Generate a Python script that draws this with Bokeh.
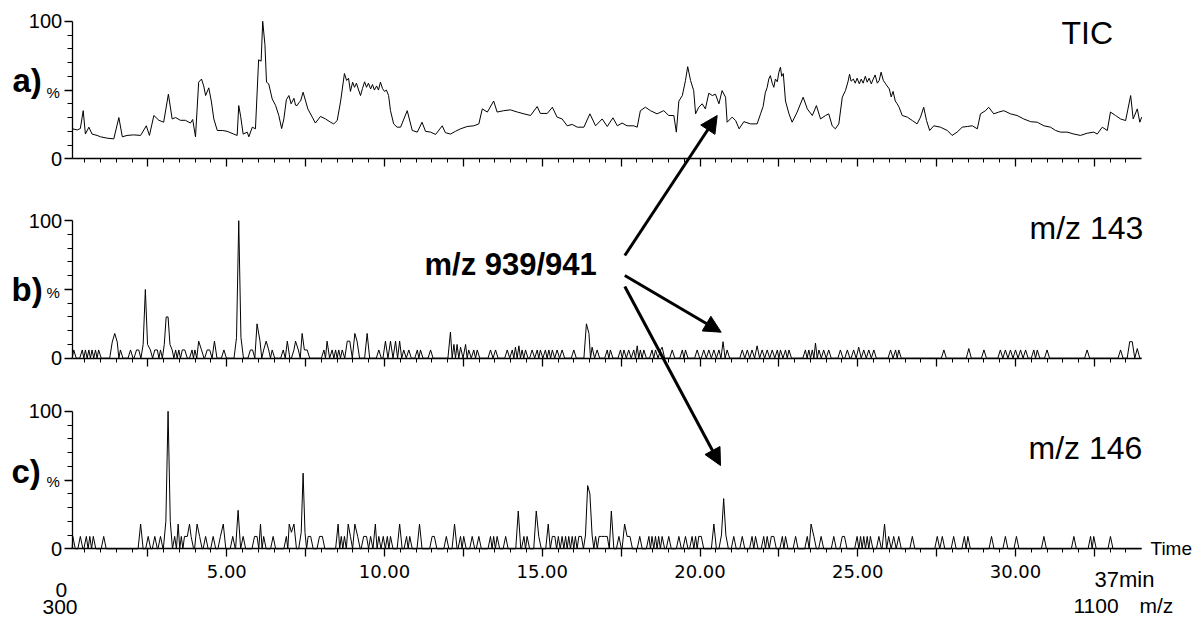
from bokeh.plotting import figure
from bokeh.models import Range1d, LinearAxis, FixedTicker, Arrow, NormalHead, Label
from bokeh.embed import file_html
from bokeh.resources import INLINE

# ---------------- data ----------------
# a) TIC, relative intensity (%) vs retention time (min)
tic_time = [0.11, 0.26, 0.36, 0.45, 0.52, 0.63, 0.73, 0.89, 1.00, 1.21,
            1.42, 1.58, 1.69, 1.84, 2.05, 2.27, 2.45, 2.55, 2.69, 2.85,
            3.00, 3.15, 3.27, 3.38, 3.53, 3.69, 3.85, 3.92, 4.01, 4.11,
            4.20, 4.27, 4.33, 4.43, 4.51, 4.59, 4.70, 4.86, 5.01, 5.22,
            5.33, 5.38, 5.44, 5.52, 5.65, 5.70, 5.81, 5.91, 6.01, 6.09,
            6.14, 6.21, 6.26, 6.33, 6.44, 6.55, 6.65, 6.74, 6.81, 6.89,
            6.97, 7.04, 7.13, 7.18, 7.23, 7.29, 7.34, 7.42, 7.50, 7.57,
            7.71, 7.81, 7.97, 8.13, 8.29, 8.39, 8.50, 8.61, 8.73, 8.80,
            8.86, 8.92, 8.99, 9.05, 9.11, 9.18, 9.24, 9.30, 9.37, 9.43,
            9.49, 9.56, 9.62, 9.68, 9.75, 9.81, 9.87, 9.94, 10.00, 10.06,
            10.13, 10.19, 10.29, 10.40, 10.51, 10.72, 10.88, 11.04, 11.19, 11.30,
            11.46, 11.62, 11.83, 11.93, 12.09, 12.25, 12.41, 12.62, 12.83, 12.99,
            13.10, 13.26, 13.46, 13.57, 13.78, 13.99, 14.21, 14.42, 14.63, 14.84,
            14.94, 15.16, 15.32, 15.47, 15.63, 15.79, 15.95, 16.11, 16.32, 16.51,
            16.69, 16.90, 17.06, 17.24, 17.38, 17.53, 17.69, 17.90, 18.01, 18.11,
            18.27, 18.43, 18.64, 18.85, 19.01, 19.17, 19.25, 19.33, 19.44, 19.54,
            19.61, 19.70, 19.80, 19.86, 19.96, 20.07, 20.17, 20.28, 20.39, 20.49,
            20.60, 20.70, 20.81, 20.86, 21.02, 21.13, 21.24, 21.39, 21.60, 21.81,
            21.92, 22.00, 22.07, 22.13, 22.18, 22.23, 22.29, 22.34, 22.39, 22.45,
            22.50, 22.55, 22.59, 22.64, 22.71, 22.82, 22.92, 23.08, 23.27, 23.40,
            23.56, 23.69, 23.82, 23.98, 24.08, 24.19, 24.29, 24.40, 24.51, 24.61,
            24.69, 24.74, 24.79, 24.86, 24.92, 24.98, 25.05, 25.11, 25.17, 25.24,
            25.30, 25.36, 25.43, 25.49, 25.55, 25.62, 25.68, 25.74, 25.81, 25.87,
            25.93, 26.00, 26.06, 26.12, 26.19, 26.25, 26.31, 26.41, 26.57, 26.73,
            26.88, 26.99, 27.09, 27.18, 27.28, 27.41, 27.62, 27.84, 27.99, 28.15,
            28.31, 28.47, 28.63, 28.79, 28.89, 29.05, 29.15, 29.31, 29.47, 29.63,
            29.84, 30.05, 30.26, 30.48, 30.69, 30.90, 31.11, 31.27, 31.43, 31.64,
            31.85, 32.06, 32.27, 32.48, 32.59, 32.75, 32.91, 33.01, 33.17, 33.33,
            33.49, 33.65, 33.73, 33.86, 33.94, 34.00]
tic_pct = [21.8, 21, 22, 35, 18, 23, 18, 17, 16, 15,
           14.5, 30, 16, 17, 17.4, 17, 24, 17, 31.5, 28,
           26.6, 47, 29, 30, 28, 28, 26, 28.6, 16, 55.7,
           58, 53, 46, 51.6, 42, 29, 20.6, 20.6, 20, 18,
           17, 38.7, 31, 18, 19.4, 16, 23, 21.8, 72, 71,
           100, 83, 55.7, 54.5, 43.6, 38.7, 31.5, 22, 29, 43,
           46, 40, 44, 39, 38.7, 41, 42, 48.4, 42, 36.3,
           30.3, 26, 30.8, 29, 26.6, 25.4, 27.8, 42, 62, 57,
           58.6, 49, 55.7, 52, 55, 50, 46, 51, 56, 52,
           55, 50.8, 54, 50, 53, 50, 55.7, 51, 49, 50,
           46, 35, 25.4, 23, 23, 35, 20.6, 19.4, 26.6, 20,
           19.4, 17.7, 24, 19, 18, 20, 21.8, 23.5, 24, 25.4,
           36.3, 34, 42, 34, 35, 35.6, 34, 32.7, 31.5, 38,
           33, 33, 37.5, 30.3, 29, 24, 25, 23, 23, 32.7,
           24, 29, 23.5, 29.8, 24, 26, 24, 24, 23, 35,
           37.5, 35, 32.7, 35, 31.5, 31.5, 19.4, 42, 46, 57,
           67, 57, 49.6, 32.7, 37.5, 40, 36.3, 47.7, 46, 47,
           40, 49.6, 44.8, 26.6, 30.3, 27.8, 21.8, 27, 25.4, 25.4,
           32.7, 38, 48, 52, 58, 60.5, 55, 52, 58, 56,
           63, 66.6, 60, 62, 42, 32.7, 26.6, 34, 44.8, 36.3,
           31.5, 38.7, 29, 31.5, 32.7, 24, 21.8, 25.4, 44.8, 49.6,
           56, 61.5, 56.4, 58, 55, 58.6, 54.5, 58, 55, 60,
           55.7, 58.6, 54.5, 58, 61, 55, 57, 63, 57, 55,
           53, 50.8, 45, 49, 42, 40, 37.5, 31.5, 30.3, 27.8,
           25.4, 30.3, 37.5, 27.8, 20.6, 24, 23, 20.6, 17, 19.4,
           23, 23.5, 24, 21.8, 32.7, 35, 37.5, 32.7, 34, 35,
           32.7, 31.5, 29, 27, 26.6, 24, 23, 20.6, 19.4, 19.4,
           18, 17, 18.6, 19.4, 18, 23, 20.6, 34, 31.5, 29,
           27.8, 46, 29, 36.3, 26.6, 30.3]

# b) m/z 143 : non-zero scans (time, %)
mz143_time = [0.15, 0.42, 0.52, 0.63, 0.73, 0.84, 0.94, 1.37, 1.45, 1.53,
              1.63, 1.95, 2.14, 2.21, 2.35, 2.42, 2.49, 2.58, 2.72, 2.80,
              2.90, 3.02, 3.08, 3.14, 3.20, 3.27, 3.38, 3.48, 3.59, 3.67,
              3.90, 3.99, 4.11, 4.20, 4.38, 4.46, 4.61, 4.91, 5.31, 5.38,
              5.45, 5.75, 5.82, 5.96, 6.05, 6.17, 6.25, 6.33, 6.44, 6.79,
              6.92, 7.13, 7.18, 7.27, 7.39, 7.46, 7.55, 8.08, 8.18, 8.34,
              8.45, 8.55, 8.66, 8.82, 8.90, 9.06, 9.13, 9.45, 9.82, 10.03,
              10.19, 10.35, 10.48, 10.61, 10.77, 11.04, 11.14, 11.46, 12.09, 12.20,
              12.30, 12.41, 12.57, 12.67, 12.83, 12.94, 13.36, 13.52, 13.89, 14.05,
              14.15, 14.26, 14.36, 14.47, 14.68, 14.84, 14.94, 15.10, 15.21, 15.32,
              15.47, 15.63, 16.00, 16.40, 16.48, 16.58, 16.74, 17.06, 17.16, 17.48,
              17.59, 17.74, 17.90, 18.01, 18.11, 18.22, 18.48, 18.59, 18.75, 18.80,
              19.12, 19.44, 19.54, 19.91, 20.12, 20.28, 20.44, 20.60, 20.73, 20.86,
              21.34, 21.50, 21.65, 21.81, 21.97, 22.13, 22.29, 22.45, 22.55, 22.71,
              22.82, 23.34, 23.45, 23.56, 23.66, 23.77, 23.92, 24.08, 24.45, 24.67,
              24.87, 25.03, 25.19, 25.35, 25.51, 26.04, 26.20, 26.30, 27.73, 28.52,
              29.00, 29.52, 29.68, 29.84, 30.00, 30.16, 30.32, 30.58, 30.69, 31.00,
              32.27, 33.33, 33.62, 33.70, 33.86]
mz143_pct = [6, 6, 6, 6, 6, 6, 6, 11.7, 18, 11.7,
             6, 6, 6, 6, 10, 50, 10, 6, 6, 6,
             6, 10, 30, 30, 10, 6, 6, 6, 6, 6,
             6, 6, 12.4, 6, 6, 6, 12.4, 6, 15, 100,
             15, 6, 6, 25, 13, 6, 12.4, 6, 6, 6,
             12.4, 6, 12.4, 6, 18, 6, 6, 6, 12.4, 6,
             6, 6, 6, 12.4, 12.4, 18, 12.4, 18, 6, 12.4,
             12.4, 12.4, 12.4, 6, 6, 6, 6, 6, 19, 10,
             10, 8, 10, 6, 6, 6, 6, 6, 6, 6,
             8, 9, 6, 6, 6, 6, 6, 6, 6, 6,
             6, 6, 6, 25, 18, 8, 6, 6, 6, 6,
             6, 6, 6, 9, 6, 6, 6, 6, 6, 8,
             6, 6, 6, 6, 6, 6, 6, 6, 12, 6,
             6, 6, 6, 9, 6, 6, 6, 6, 6, 6,
             6, 6, 6, 6, 11, 6, 6, 6, 6, 6,
             6, 8, 6, 6, 6, 6, 6, 6, 6, 7,
             6, 6, 6, 6, 6, 6, 6, 6, 6, 6,
             6, 6, 12, 12, 7]

# c) m/z 146 : non-zero scans (time, %)
mz146_time = [0.12, 0.36, 0.55, 0.66, 0.77, 1.10, 2.27, 2.51, 2.72, 2.90,
              3.07, 3.14, 3.21, 3.35, 3.46, 3.56, 3.66, 3.75, 3.82, 3.87,
              4.06, 4.14, 4.33, 4.57, 4.80, 4.89, 5.19, 5.36, 5.52, 5.88,
              5.96, 6.07, 6.17, 6.47, 6.89, 6.98, 7.05, 7.13, 7.36, 7.42,
              7.48, 7.58, 7.66, 7.94, 8.03, 8.53, 8.63, 8.73, 8.85, 8.92,
              9.06, 9.15, 9.34, 9.43, 9.56, 9.71, 9.82, 9.96, 10.09, 10.19,
              10.48, 10.70, 10.80, 11.11, 11.51, 11.58, 11.96, 12.22, 12.41, 12.51,
              12.78, 12.99, 13.36, 13.46, 13.57, 13.84, 14.24, 14.42, 14.52, 14.81,
              14.89, 15.19, 15.32, 15.40, 15.51, 15.63, 15.74, 15.84, 15.95, 16.05,
              16.16, 16.24, 16.37, 16.44, 16.51, 16.58, 16.69, 16.80, 16.88, 16.97,
              17.06, 17.19, 17.43, 17.61, 17.69, 17.78, 18.09, 18.38, 18.48, 18.59,
              18.69, 18.80, 19.01, 19.33, 19.54, 19.75, 19.86, 19.96, 20.04, 20.44,
              20.68, 20.75, 20.82, 21.07, 21.34, 21.65, 21.76, 22.02, 22.13, 22.26,
              22.34, 22.61, 22.71, 23.03, 23.40, 23.52, 23.61, 23.84, 24.24, 24.51,
              24.58, 24.98, 25.09, 25.19, 25.30, 25.40, 25.67, 25.85, 25.98, 26.14,
              26.30, 26.73, 27.52, 27.68, 28.04, 28.38, 28.49, 29.24, 29.68, 30.03,
              30.90, 31.85, 32.38, 32.48, 33.01]
mz146_pct = [9, 9, 9, 9, 9, 9, 18, 9, 9, 9,
             20, 100, 20, 9, 18, 9, 9, 9, 18, 9,
             18, 9, 9, 9, 9, 18, 9, 28, 9, 9,
             9, 18, 9, 9, 9, 18, 12, 18, 12, 55,
             12, 9, 9, 9, 9, 18, 9, 9, 18, 9,
             18, 9, 9, 9, 9, 18, 9, 9, 9, 9,
             18, 9, 9, 18, 9, 9, 9, 18, 9, 9,
             9, 9, 9, 9, 9, 9, 27.5, 9, 9, 27.5,
             9, 18, 9, 9, 9, 9, 9, 9, 9, 9,
             9, 9, 10, 46, 40, 10, 9, 9, 9, 9,
             9, 27.5, 9, 18, 9, 9, 9, 9, 9, 9,
             9, 9, 9, 9, 9, 9, 9, 9, 9, 18,
             10, 36.5, 10, 9, 9, 9, 9, 9, 9, 9,
             9, 9, 9, 9, 9, 18, 9, 9, 9, 9,
             9, 9, 9, 9, 9, 9, 9, 18, 9, 9,
             9, 9, 9, 9, 9, 9, 9, 9, 9, 9,
             9, 9, 9, 9, 9]

panel_letters = ["a)", "b)", "c)"]
panel_titles = ["TIC", "m/z 143", "m/z 146"]
x_tick_major = [2.5 * i for i in range(1, 14)]
x_tick_minor = [0.5 * i for i in range(1, 68)]
y_ticks = [0, 50, 100]
y_minor = list(range(10, 100, 10))
T_START, T_END = 0.1, 34.0

# ---------------- layout (reference pixel geometry) ----------------
W, H = 1195, 619
PX_PER_MIN = 31.55
T0_X = 68.5               # canvas x of t = 0
PX_PER_PCT = 1.375
ZERO_Y = {"a": 158.3, "b": 357.7, "c": 548.3}   # canvas y (from top) of 0 % per panel


def y_range_for(k):
    start = -(H - ZERO_Y[k]) / PX_PER_PCT
    return start, start + H / PX_PER_PCT


def xd(px):   # canvas x -> minutes
    return (px - T0_X) / PX_PER_MIN


def yd(py):   # canvas y -> panel-b % units
    return (ZERO_Y["b"] - py) / PX_PER_PCT


def spike_path(times, pcts, hw=0.08, merge=0.09):
    xs, ys = [T_START], [0.0]
    prev = None
    for t, v in zip(times, pcts):
        if prev is None:
            if t - hw > T_START:
                xs.append(t - hw); ys.append(0.0)
        else:
            gap = t - prev
            if gap > 2 * hw:
                xs += [prev + hw, t - hw]; ys += [0.0, 0.0]
            elif gap >= merge:
                xs.append((prev + t) / 2); ys.append(0.0)
        xs.append(t); ys.append(v)
        prev = t
    xs += [prev + hw, T_END]; ys += [0.0, 0.0]
    return xs, ys


x0 = -T0_X / PX_PER_MIN
p = figure(width=W, height=H,
           x_range=Range1d(x0, x0 + W / PX_PER_MIN),
           y_range=Range1d(*y_range_for("b")),
           output_backend="svg", toolbar_location=None,
           x_axis_location=None, y_axis_location=None,
           min_border=0, outline_line_color=None,
           background_fill_color="white", border_fill_color="white")
p.grid.visible = False
p.extra_y_ranges = {k: Range1d(*y_range_for(k)) for k in "abc"}

for k in "abc":
    ya = LinearAxis(y_range_name=k, fixed_location=T_START, bounds=(0, 100),
                    ticker=FixedTicker(ticks=y_ticks, minor_ticks=y_minor),
                    major_label_overrides={50: ""},
                    axis_line_width=1.3, axis_line_color="black",
                    major_tick_in=0, major_tick_out=8, major_tick_line_width=1.3,
                    minor_tick_in=0, minor_tick_out=5, minor_tick_line_width=1,
                    major_label_standoff=2,
                    major_label_text_font="Liberation Sans",
                    major_label_text_font_size="20px",
                    major_label_text_color="black")
    p.add_layout(ya, "left")
    if k == "c":
        overrides = {v: (f"{v:.2f}" if v % 5 == 0 else "") for v in x_tick_major}
    else:
        overrides = {v: "" for v in x_tick_major}
    xa = LinearAxis(y_range_name=k, fixed_location=0, bounds=(T_START, T_END),
                    ticker=FixedTicker(ticks=x_tick_major, minor_ticks=x_tick_minor),
                    major_label_overrides=overrides,
                    axis_line_width=1.3, axis_line_color="black",
                    major_tick_in=0, major_tick_out=8, major_tick_line_width=1.3,
                    minor_tick_in=0, minor_tick_out=4, minor_tick_line_width=1,
                    major_label_standoff=8,
                    major_label_text_font="DejaVu Sans",
                    major_label_text_font_size="18px",
                    major_label_text_color="black")
    p.add_layout(xa, "below")

# traces
p.line(tic_time, tic_pct, y_range_name="a", line_color="black", line_width=1)
bx, by = spike_path(mz143_time, mz143_pct)
p.line(bx, by, y_range_name="b", line_color="black", line_width=1)
cx, cy = spike_path(mz146_time, mz146_pct)
p.line(cx, cy, y_range_name="c", line_color="black", line_width=1)


# texts (y = vertical centre of the text)
def label(text, px, py, size, bold=False, align="left", font="Liberation Sans"):
    p.add_layout(Label(x=xd(px), y=yd(py), text=text, text_font=font,
                       text_font_size=f"{size}px",
                       text_font_style="bold" if bold else "normal",
                       text_align=align, text_baseline="middle",
                       text_color="black"))


for letter, (lx, ly) in zip(panel_letters, [(12, 80), (11, 289), (11, 471)]):
    label(letter, lx, ly, 33, bold=True)
for py in [92, 292, 481]:
    label("%", 46, py, 15)
label(panel_titles[0], 1061, 32, 32)
label(panel_titles[1], 1029, 227, 32)
label(panel_titles[2], 1028, 447, 32)
label("m/z 939/941", 424, 264, 31, bold=True)
label("Time", 1150, 548, 19)
label("0", 55, 589, 21)
label("37min", 1094, 579, 22)
label("300", 42, 606, 21)
label("1100", 1073, 605, 21)
label("m/z", 1139, 605, 21)

# arrows from the m/z 939/941 label to the three traces
arrow_start = [(624.3, 255), (624.3, 275), (624.3, 286)]
arrow_end = [(716.7, 115), (720.7, 331.7), (720, 465)]
for (sx, sy), (ex, ey) in zip(arrow_start, arrow_end):
    p.add_layout(Arrow(x_start=xd(sx), y_start=yd(sy), x_end=xd(ex), y_end=yd(ey),
                       line_width=3, line_color="black",
                       end=NormalHead(size=17, fill_color="black",
                                      line_color="black", line_width=1)))

open("out.html", "w").write(file_html(p, INLINE))
